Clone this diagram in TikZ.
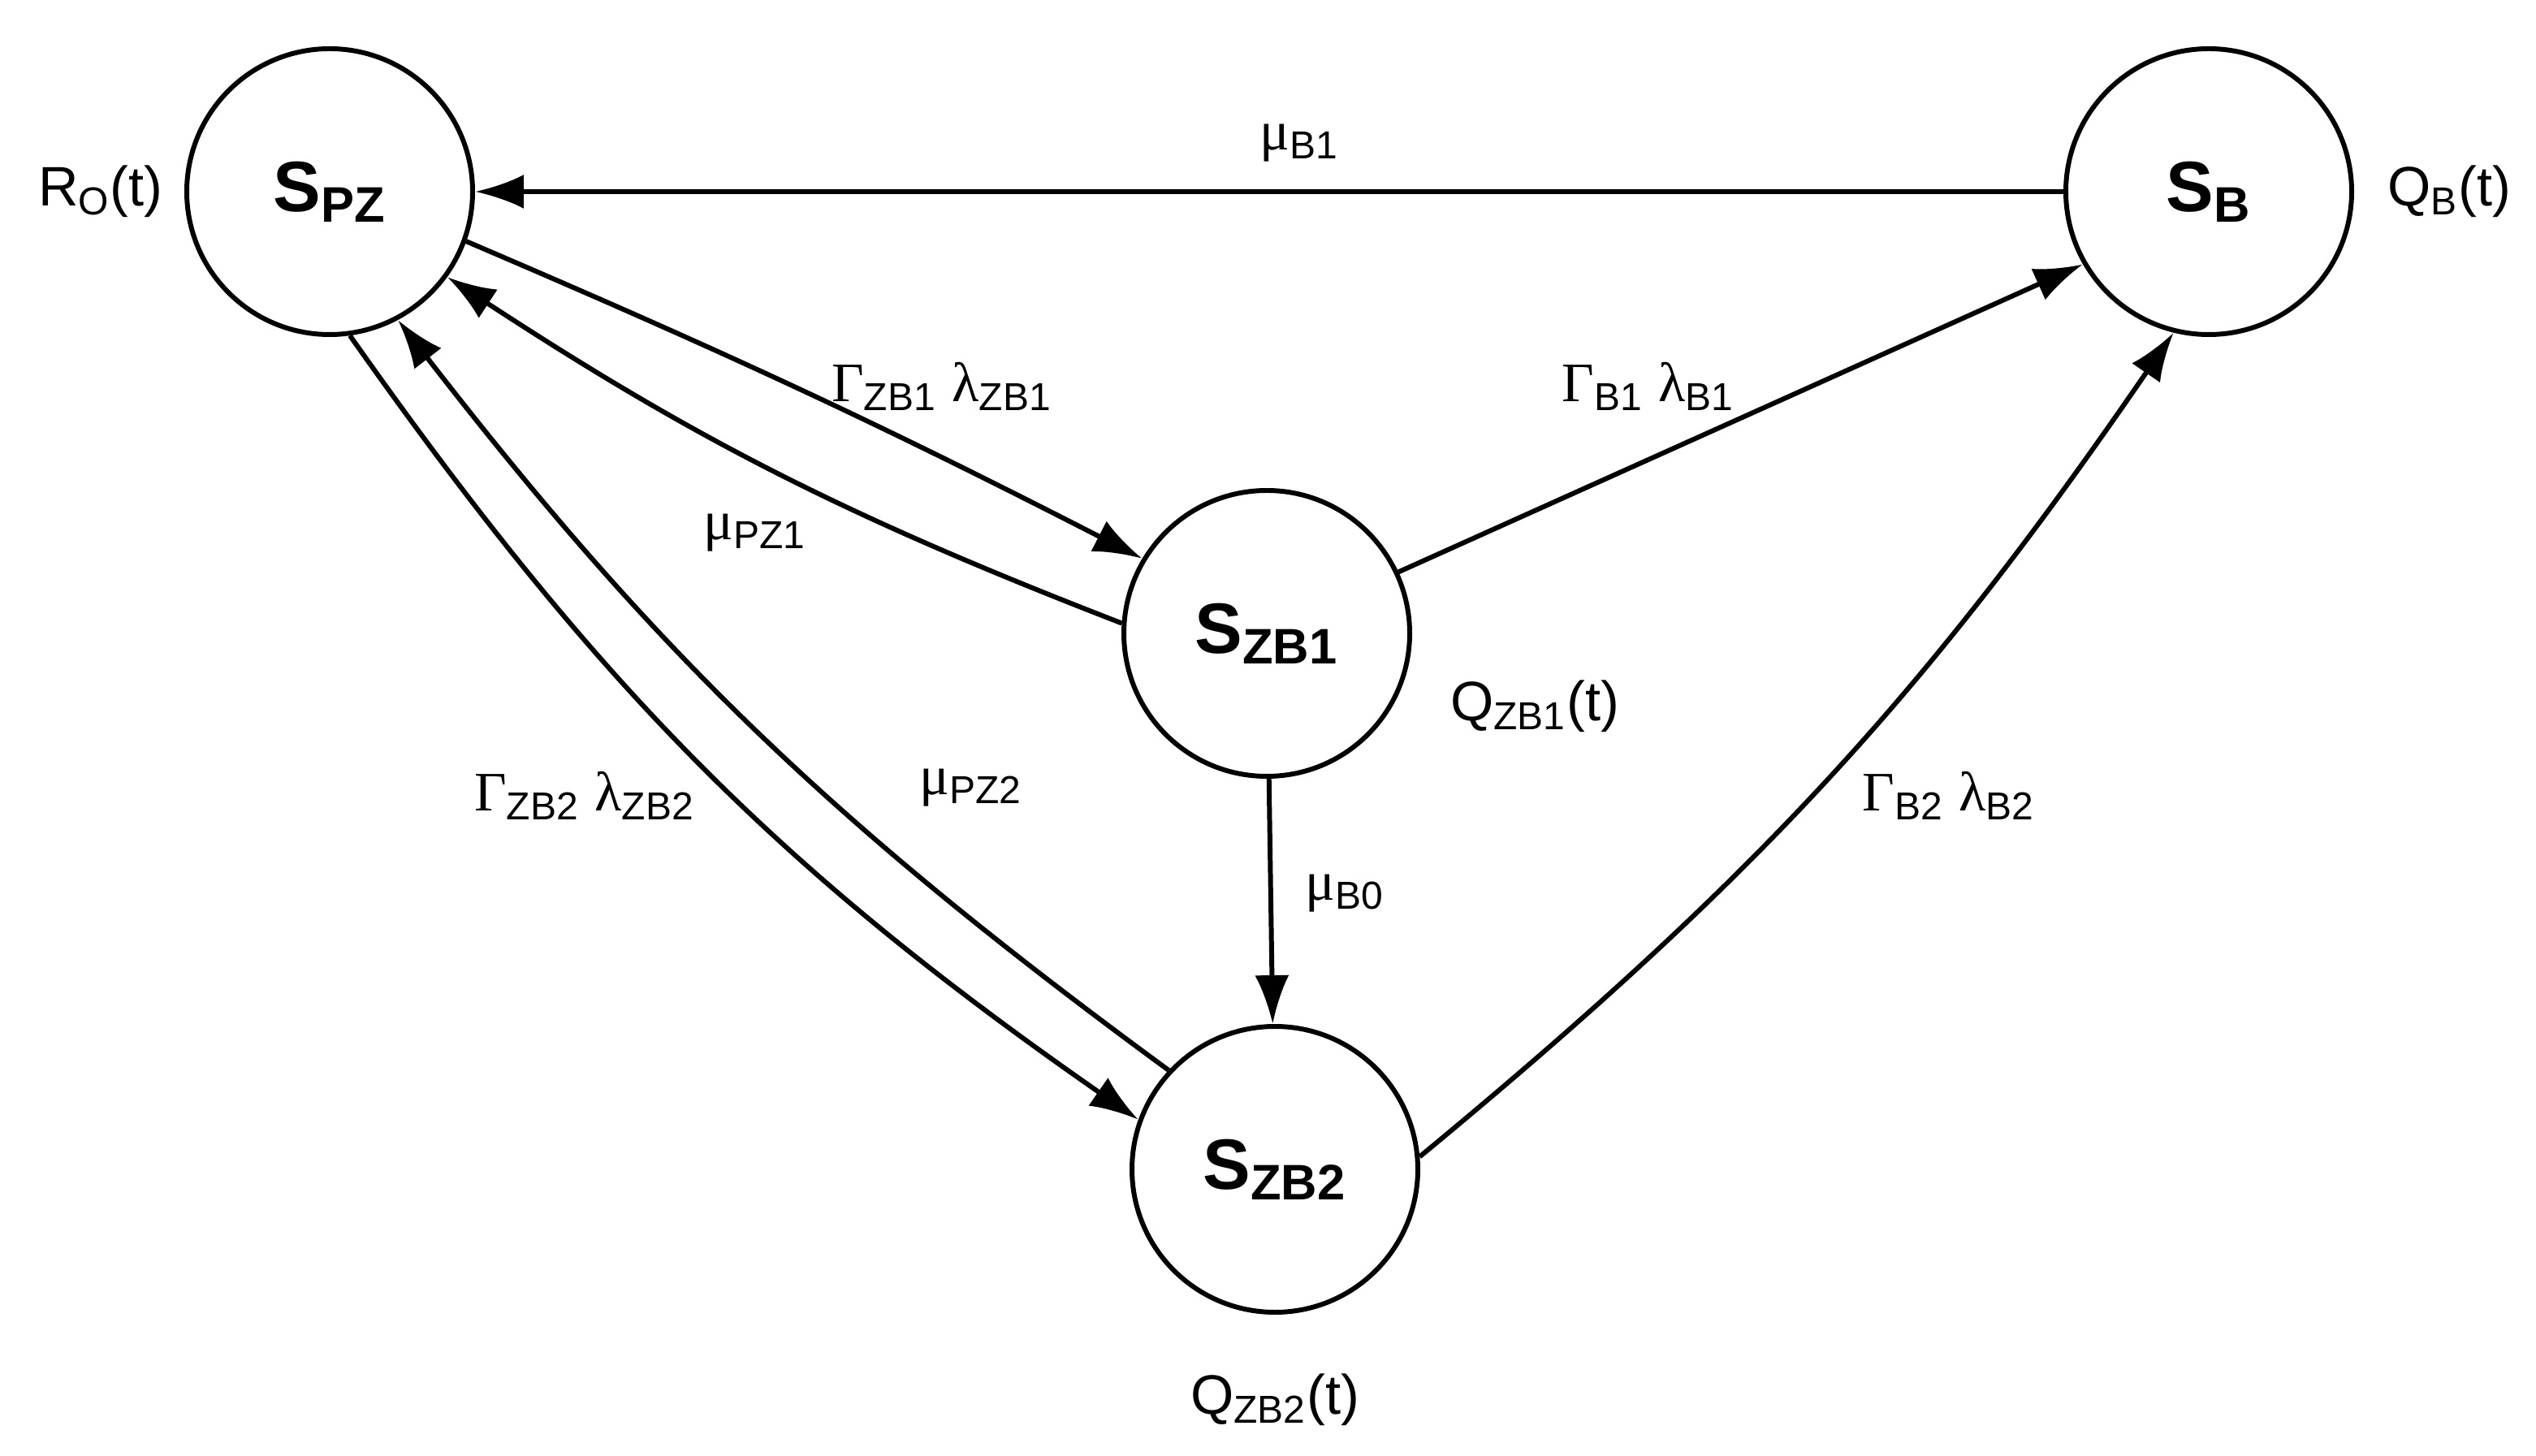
\documentclass[tikz,border=0pt]{standalone}
\usepackage{fontspec}
\setmainfont{Liberation Sans}
\newfontfamily\grk{Liberation Serif}
\usetikzlibrary{arrows.meta}

\begin{document}
\begin{tikzpicture}[>={Latex[length=0.6cm,width=0.42cm]}, line width=1.7pt]
	\tikzstyle{state}=[draw, circle, minimum size=3.52cm, inner sep=0pt, font=\fontsize{25}{30}\selectfont\bfseries]
	\tikzstyle{lbl}=[font=\fontsize{19.5}{23}\selectfont]
	\useasboundingbox (0,0) rectangle (31.23,17.92);

    \node [state] (pz) at (4.06,15.56) {S\textsubscript{PZ}};
    \node [state] (b) at (27.2,15.56) {S\textsubscript{B}};
    \node [state] (zb1) at (15.6,10.12) {S\textsubscript{ZB1}};
    \node [state] (zb2) at (15.7,3.52) {S\textsubscript{ZB2}};

    \node [lbl] (ro) at (1.24,15.56) {R\textsubscript{O}(t)};
    \node [lbl] (qb) at (30.16,15.56) {Q\textsubscript{B}(t)};
    \node [lbl] (qzb1) at (18.9,9.22) {Q\textsubscript{ZB1}(t)};
    \node [lbl] (qzb2) at (15.7,0.68) {Q\textsubscript{ZB2}(t)};

    \draw[->] (b) -- (pz);
    \draw[->] (pz.-20) to[bend left=2] (zb1.149);
    \draw[->] (zb1.176) to[bend left=6] (pz.-36);
    \draw[->] (zb1.25) -- (b.-150);
    \draw[->] (zb1) -- (zb2);
    \draw[->] (pz.-82) to[bend right=10] (zb2.160);
    \draw[->] (zb2.137) to[bend left=8] (pz.-62);
    \draw[->] (zb2.5) to[bend right=8] (b.-104);

    \node [lbl] (mb1) at (16,16.16) {{\grk μ}\textsubscript{B1}};
    \node [lbl] (gzb1) at (11.6,13.16) {{\grk Γ}\textsubscript{ZB1} {\grk λ}\textsubscript{ZB1}};
    \node [lbl] (mpz1) at (9.3,11.36) {{\grk μ}\textsubscript{PZ1}};
    \node [lbl] (gb1) at (20.3,13.16) {{\grk Γ}\textsubscript{B1} {\grk λ}\textsubscript{B1}};
    \node [lbl] (mb0) at (16.56,6.92) {{\grk μ}\textsubscript{B0}};
    \node [lbl] (gzb2) at (7.2,8.12) {{\grk Γ}\textsubscript{ZB2} {\grk λ}\textsubscript{ZB2}};
    \node [lbl] (mpz2) at (11.96,8.22) {{\grk μ}\textsubscript{PZ2}};
    \node [lbl] (gb2) at (24,8.12) {{\grk Γ}\textsubscript{B2} {\grk λ}\textsubscript{B2}};
\end{tikzpicture}
\end{document}
